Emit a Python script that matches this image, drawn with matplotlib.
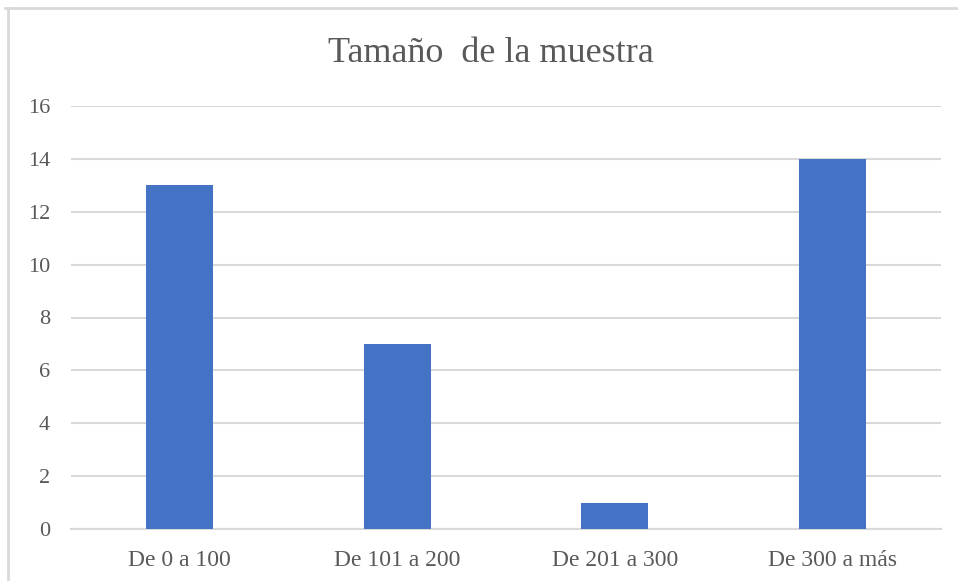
import matplotlib.pyplot as plt
from matplotlib.lines import Line2D

categories = ["De 0 a 100", "De 101 a 200", "De 201 a 300", "De 300 a más"]
values = [13, 7, 1, 14]
yticks = [0, 2, 4, 6, 8, 10, 12, 14, 16]

text_color = "#595959"
grid_color = "#D9D9D9"
bar_color = "#4472C4"

plt.rcParams["font.family"] = ["Liberation Serif", "DejaVu Serif"]

fig = plt.figure(figsize=(9.58, 5.81), dpi=100)
ax = fig.add_axes([71 / 958, 1 - 529 / 581, 870 / 958, 423 / 581])

ax.bar(range(len(categories)), values, width=0.31, color=bar_color, zorder=3)

ax.set_xlim(-0.5, len(categories) - 0.5)
ax.set_ylim(0, 16)
ax.set_yticks(yticks)
ax.set_xticks(range(len(categories)))
ax.set_xticklabels(categories)

ax.yaxis.grid(True, color=grid_color, linewidth=1.5, zorder=0)
ax.set_axisbelow(True)
for side in ["top", "right", "left"]:
    ax.spines[side].set_visible(False)
ax.spines["bottom"].set_color(grid_color)
ax.spines["bottom"].set_linewidth(1.5)

ax.tick_params(axis="both", length=0, labelcolor=text_color)
ax.tick_params(axis="x", pad=15, labelsize=17)
ax.tick_params(axis="y", pad=15, labelsize=16)

fig.text(491 / 958, 1 - 54 / 581, "Tamaño  de la muestra", ha="center", va="center",
         fontsize=26, color=text_color)

# chart frame, only top and left edges are visible in the crop
fig.add_artist(Line2D([5 / 958, 1.0], [1 - 8 / 581, 1 - 8 / 581],
                      transform=fig.transFigure, color=grid_color, linewidth=2))
fig.add_artist(Line2D([8 / 958, 8 / 958], [0.0, 1 - 8 / 581],
                      transform=fig.transFigure, color=grid_color, linewidth=2))

fig.savefig("out.png", dpi=100)
